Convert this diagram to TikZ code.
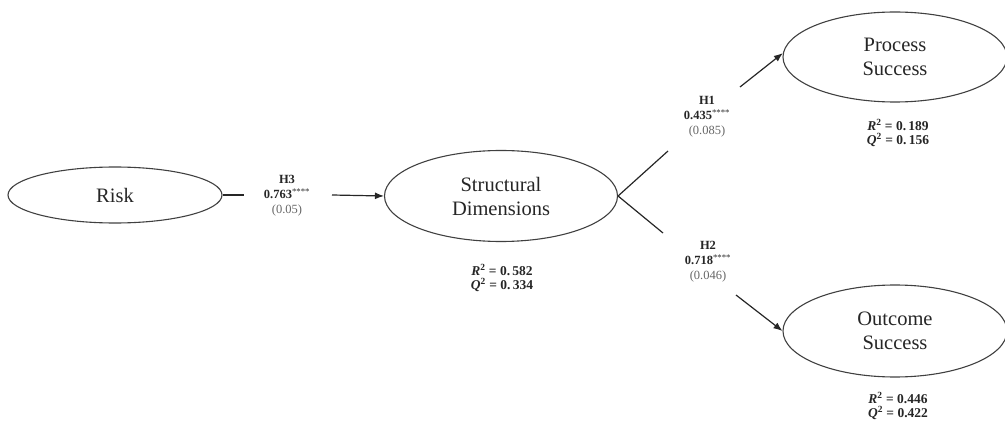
\documentclass[tikz,border=0pt]{standalone}
\usepackage{fontspec}
\setmainfont{Liberation Serif}
\usetikzlibrary{shapes.geometric,arrows.meta}
\begin{document}
\begin{tikzpicture}[x=1pt,y=-1pt,
  construct/.style={ellipse,draw=black!75,line width=1.1pt,inner sep=0pt,
    font=\fontsize{20.5}{24}\selectfont,text=black!85,align=center},
  conn/.style={draw=black!85,line width=1.2pt},
  arr/.style={conn,-{Latex[length=9pt,width=7pt]}},
  pathlbl/.style={align=center,font=\fontsize{12.5}{15}\selectfont,text=black!85},
  fitlbl/.style={align=center,font=\fontsize{13.5}{14}\selectfont\bfseries,text=black!85}]
\useasboundingbox (0,0) rectangle (1005,425);
\node[construct,minimum width=214pt,minimum height=56pt] (R) at (115,195) {Risk};
\node[construct,minimum width=233pt,minimum height=91pt] (SD) at (501,196) {Structural\\Dimensions};
\node[construct,minimum width=224pt,minimum height=90pt] (PS) at (895,57) {Process\\Success};
\node[construct,minimum width=224pt,minimum height=92pt] (OS) at (895,331) {Outcome\\Success};

\coordinate (h3a) at (244,195);
\coordinate (h3b) at (332,195);
\coordinate (h1a) at (668,151);
\coordinate (h1b) at (740,87);
\coordinate (h2a) at (663,233);
\coordinate (h2b) at (736,295);

\draw[conn] (R.east) -- (h3a);
\draw[arr] (h3b) -- (SD.west);
\draw[conn] (SD.east) -- (h1a);
\draw[arr] (h1b) -- (PS.178);
\draw[conn] (SD.east) -- (h2a);
\draw[arr] (h2b) -- (OS.west);

\node[pathlbl] (l3) at (287,196) {\textbf{H3}\\\textbf{0.763}\textsuperscript{****}\\\textcolor{black!60}{(0.05)}};
\node[pathlbl] (l1) at (707,117) {\textbf{H1}\\\textbf{0.435}\textsuperscript{****}\\\textcolor{black!60}{(0.085)}};
\node[pathlbl] (l2) at (708,262) {\textbf{H2}\\\textbf{0.718}\textsuperscript{****}\\\textcolor{black!60}{(0.046)}};

\node[fitlbl] (f1) at (502,278) {\textit{R}\textsuperscript{2} = 0.\,582\\\textit{Q}\textsuperscript{2} = 0.\,334};
\node[fitlbl] (f2) at (898,133) {\textit{R}\textsuperscript{2} = 0.\,189\\\textit{Q}\textsuperscript{2} = 0.\,156};
\node[fitlbl] (f3) at (898,406) {\textit{R}\textsuperscript{2} = 0.446\\\textit{Q}\textsuperscript{2} = 0.422};
\end{tikzpicture}
\end{document}
